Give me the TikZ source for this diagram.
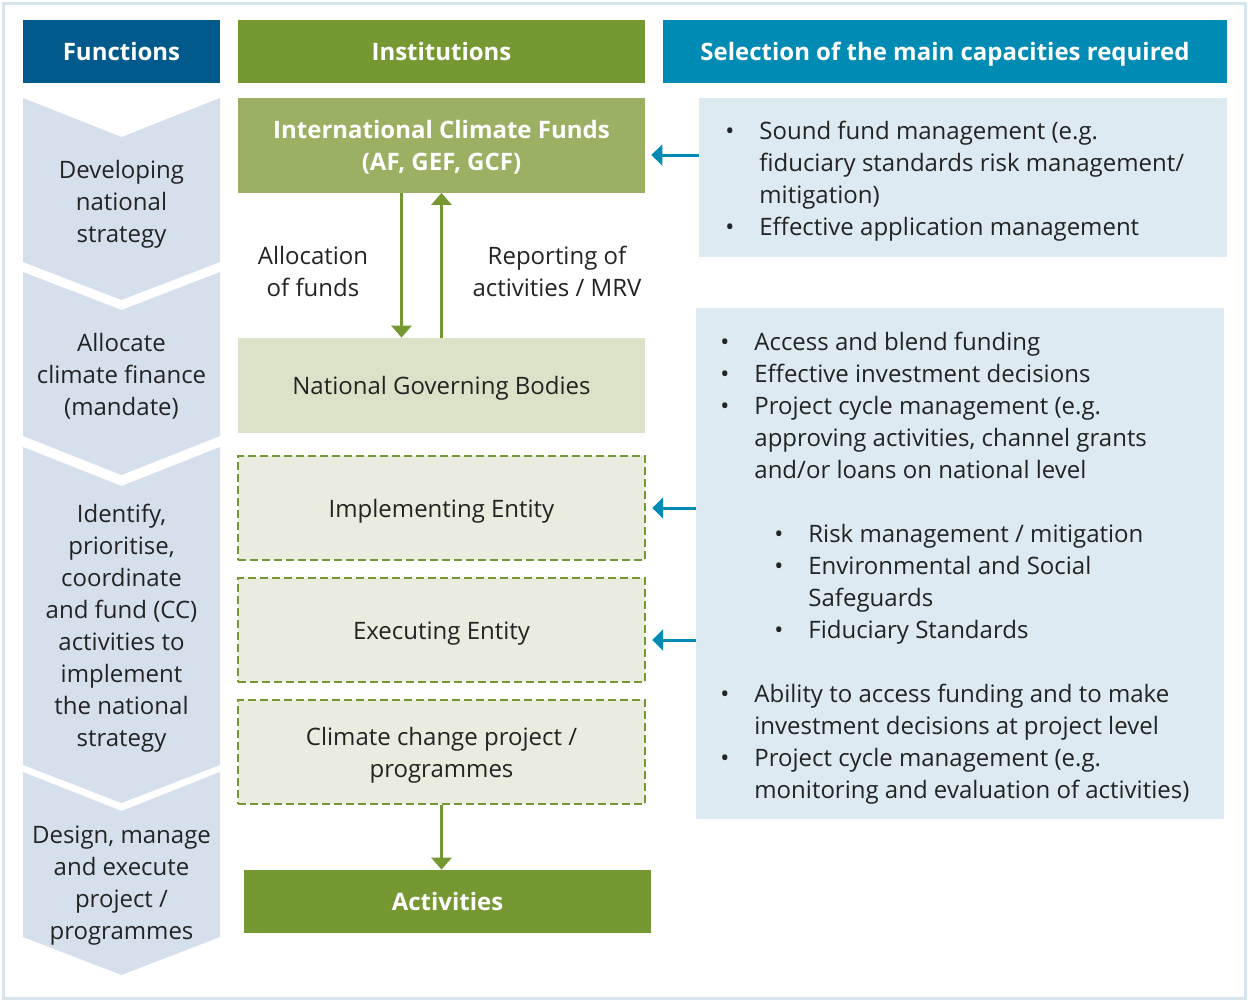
\documentclass[tikz,border=0pt]{standalone}
\usepackage{fontspec}
\setmainfont{Open Sans}
\usetikzlibrary{arrows.meta}
\definecolor{funccolor}{RGB}{0,90,140}
\definecolor{instcolor}{RGB}{118,152,50}
\definecolor{selcolor}{RGB}{0,139,180}
\definecolor{icfcolor}{RGB}{155,176,98}
\definecolor{ngbcolor}{RGB}{220,226,200}
\definecolor{entcolor}{RGB}{234,236,224}
\definecolor{chevcolor}{RGB}{214,224,237}
\definecolor{capcolor}{RGB}{221,234,241}
\definecolor{framecolor}{RGB}{215,230,238}
\definecolor{txtcolor}{RGB}{35,35,35}
\newcommand{\capbul}{\makebox[17pt][l]{\textbullet}}
\newcommand{\capind}{\hspace*{17pt}}
\newcommand{\subind}{\hspace*{27pt}}
\newcommand{\boxtext}[1]{\raisebox{-1.5pt}[\height][\depth]{\begin{tabular}{@{}c@{}}#1\end{tabular}}}

\begin{document}
\begin{tikzpicture}[x=0.5pt,y=-0.5pt
,font=\fontsize{12}{16}\selectfont
,hdr/.style={fill=#1,text=white,font=\fontsize{12}{16}\selectfont\bfseries,inner sep=0,minimum height=31.5pt}
,instbox/.style={fill=#1,inner sep=0,minimum width=203.5pt,text=txtcolor}
,entbox/.style={fill=entcolor,draw=instcolor,line width=1.2pt,dash pattern=on 4pt off 2pt,inner sep=0,minimum width=203.5pt,minimum height=52pt,text=txtcolor}
,capbox/.style={fill=capcolor,inner sep=0,minimum width=264pt}
,captext/.style={anchor=west,align=left,inner sep=0,text=txtcolor}
,txt/.style={align=center,inner sep=0,text=txtcolor}
,greenarrow/.style={draw=instcolor,line width=1.5pt,-{Triangle[width=10pt,length=6pt]}}
,tealarrow/.style={draw=selcolor,line width=1.5pt,shorten >=3pt,-{Triangle[width=10.5pt,length=5.5pt]}}
]
\useasboundingbox (0,0) rectangle (1248,1001);
\draw[framecolor,line width=1.5pt] (3,3) rectangle (1245,998);
% headers
\node[hdr=funccolor,minimum width=98.5pt] (func) at (121.5,51.5) {\boxtext{Functions}};
\node[hdr=instcolor,minimum width=203.5pt] (inst) at (441.5,51.5) {\boxtext{Institutions}};
\node[hdr=selcolor,minimum width=282pt] (sel) at (945,51.5) {\boxtext{Selection of the main capacities required}};
% functions
\fill[chevcolor] (23,98) -- (121.5,137) -- (220,98) -- (220,262) -- (121.5,300) -- (23,262) -- cycle;
\fill[chevcolor] (23,272) -- (121.5,310) -- (220,272) -- (220,436) -- (121.5,475) -- (23,436) -- cycle;
\fill[chevcolor] (23,447) -- (121.5,486) -- (220,447) -- (220,765) -- (121.5,803) -- (23,765) -- cycle;
\fill[chevcolor] (23,772) -- (121.5,811) -- (220,772) -- (220,937) -- (121.5,975) -- (23,937) -- cycle;
\node[txt] (dev) at (121.5,204) {Developing\\national\\strategy};
\node[txt] (allocate) at (121.5,376) {Allocate\\climate finance\\(mandate)};
\node[txt] (ident) at (121.5,628) {Identify,\\prioritise,\\coordinate\\and fund (CC)\\activities to\\implement\\the national\\strategy};
\node[txt] (design) at (121.5,886) {Design, manage\\and execute\\project /\\programmes};
% institutions
\node[instbox=icfcolor,minimum height=47.5pt,text=white,font=\fontsize{12}{16}\selectfont\bfseries] (icf) at (441.5,145) {\boxtext{International Climate Funds\\(AF, GEF, GCF)}};
\node[instbox=ngbcolor,minimum height=47.5pt] (ngb) at (441.5,385.5) {\boxtext{National Governing Bodies}};
\node[entbox] (impl) at (441.5,508) {\boxtext{Implementing Entity}};
\node[entbox] (exec) at (441.5,630) {\boxtext{Executing Entity}};
\node[entbox] (ccp) at (441.5,752) {\boxtext{Climate change project /\\programmes}};
\node[instbox=instcolor,minimum height=31.5pt,text=white,font=\fontsize{12}{16}\selectfont\bfseries] (act) at (447.5,901.5) {\boxtext{Activities}};
\draw[greenarrow] ([xshift=-20pt]icf.south) -- ([xshift=-20pt]ngb.north);
\draw[greenarrow] (ngb.north) -- (icf.south);
\draw[greenarrow] (ccp.south) -- (ccp.south |- act.north);
\node[txt] (allocfunds) at (313,271) {Allocation\\of funds};
\node[txt] (reporting) at (557,271) {Reporting of\\activities / MRV};
% capacities
\node[capbox,minimum height=79.5pt] (cap1) at (963,177.5) {};
\node[capbox,minimum height=255.5pt] (cap2) at (960,563.5) {};
\node[captext] (cap1txt) at (725,181) {\capbul Sound fund management (e.g.\\
\capind fiduciary standards risk management/\\
\capind mitigation)\\
\capbul Effective application management};
\node[captext] (cap2txt) at (720,568) {\capbul Access and blend funding\\
\capbul Effective investment decisions\\
\capbul Project cycle management (e.g.\\
\capind approving activities, channel grants\\
\capind and/or loans on national level\\[16pt]
\subind\capbul Risk management / mitigation\\
\subind\capbul Environmental and Social\\
\subind\capind Safeguards\\
\subind\capbul Fiduciary Standards\\[16pt]
\capbul Ability to access funding and to make\\
\capind investment decisions at project level\\
\capbul Project cycle management (e.g.\\
\capind monitoring and evaluation of activities)};
\draw[tealarrow] (cap1.west |- 0,155) -- (icf.east |- 0,155);
\draw[tealarrow] (cap2.west |- impl.east) -- (impl.east);
\draw[tealarrow] (cap2.west |- 0,640) -- (exec.east |- 0,640);
\end{tikzpicture}
\end{document}
